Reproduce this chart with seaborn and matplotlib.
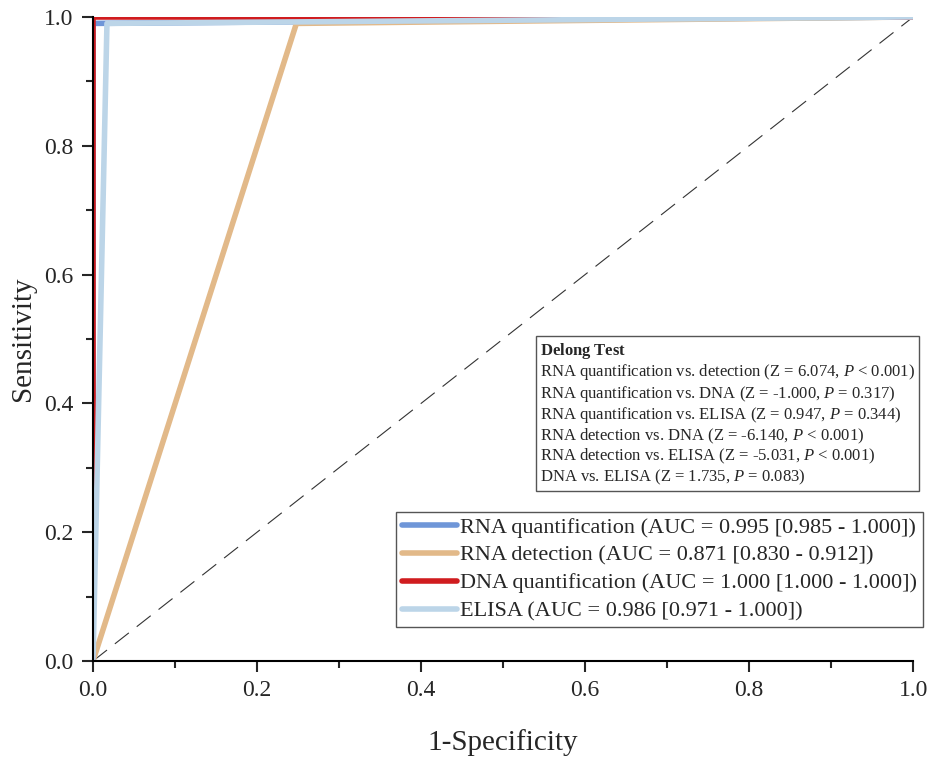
import pandas as pd
import matplotlib
matplotlib.use("Agg")
import matplotlib.pyplot as plt
import seaborn as sns
from matplotlib.ticker import MultipleLocator, FormatStrFormatter
from matplotlib.lines import Line2D

# ROC points (1-specificity, sensitivity) for each test
tests = ["RNA quantification", "RNA detection", "DNA quantification", "ELISA"]
fpr_rna_quant = [0.0, 0.0, 1.0]
tpr_rna_quant = [0.0, 0.99, 1.0]
fpr_rna_detect = [0.0, 0.248, 1.0]
tpr_rna_detect = [0.0, 0.99, 1.0]
fpr_dna_quant = [0.0, 0.0, 1.0]
tpr_dna_quant = [0.0, 1.0, 1.0]
fpr_elisa = [0.0, 0.017, 1.0]
tpr_elisa = [0.0, 0.99, 1.0]

auc_labels = [
    "RNA quantification (AUC = 0.995 [0.985 - 1.000])",
    "RNA detection (AUC = 0.871 [0.830 - 0.912])",
    "DNA quantification (AUC = 1.000 [1.000 - 1.000])",
    "ELISA (AUC = 0.986 [0.971 - 1.000])",
]
colors = ["#6f96d8", "#e2b989", "#d01c1f", "#bcd5e8"]

delong_lines = [
    r"RNA quantification vs. detection (Z = 6.074, $P$ < 0.001)",
    r"RNA quantification vs. DNA (Z = -1.000, $P$ = 0.317)",
    r"RNA quantification vs. ELISA (Z = 0.947, $P$ = 0.344)",
    r"RNA detection vs. DNA (Z = -6.140, $P$ < 0.001)",
    r"RNA detection vs. ELISA (Z = -5.031, $P$ < 0.001)",
    r"DNA vs. ELISA (Z = 1.735, $P$ = 0.083)",
]

rows = []
for name, fx, ty in zip(tests,
                        [fpr_rna_quant, fpr_rna_detect, fpr_dna_quant, fpr_elisa],
                        [tpr_rna_quant, tpr_rna_detect, tpr_dna_quant, tpr_elisa]):
    for i, (a, b) in enumerate(zip(fx, ty)):
        rows.append({"Test": name, "fpr": a, "tpr": b, "step": i})
df = pd.DataFrame(rows)

sns.set_style("ticks")
plt.rcParams["font.family"] = ["Liberation Serif", "DejaVu Serif"]
plt.rcParams["mathtext.fontset"] = "custom"
plt.rcParams["mathtext.rm"] = "Liberation Serif"
plt.rcParams["mathtext.it"] = "Liberation Serif:italic"
plt.rcParams["mathtext.bf"] = "Liberation Serif:bold"

fig = plt.figure(figsize=(9.32, 7.61), dpi=100)
ax = fig.add_axes([0.0998, 0.1314, 0.88, 0.8463])

ax.plot([0, 1], [0, 1], color="#333333", lw=0.8, linestyle=(0, (16, 9)), zorder=1)

sns.lineplot(data=df, x="fpr", y="tpr", hue="Test", hue_order=tests,
             palette=colors, sort=False, estimator=None, linewidth=4,
             ax=ax, legend=False)

ax.set_xlim(0, 1)
ax.set_ylim(0, 1)
ax.xaxis.set_major_locator(MultipleLocator(0.2))
ax.xaxis.set_minor_locator(MultipleLocator(0.1))
ax.yaxis.set_major_locator(MultipleLocator(0.2))
ax.yaxis.set_minor_locator(MultipleLocator(0.1))
ax.xaxis.set_major_formatter(FormatStrFormatter("%.1f"))
ax.yaxis.set_major_formatter(FormatStrFormatter("%.1f"))
ax.tick_params(which="major", direction="out", length=8, width=1.5, labelsize=17, pad=6)
ax.tick_params(which="minor", direction="out", length=5, width=1.5)
sns.despine(ax=ax)
for s in ["left", "bottom"]:
    ax.spines[s].set_linewidth(1.5)
    ax.spines[s].set_color("black")

ax.set_xlabel("1-Specificity", fontsize=21, labelpad=20)
ax.set_ylabel("Sensitivity", fontsize=21, labelpad=6)

handles = [Line2D([0], [0], color=c, lw=4) for c in colors]
leg = ax.legend(handles, auc_labels, loc="lower right", bbox_to_anchor=(1.012, 0.053),
                borderaxespad=0, fontsize=16, frameon=True, fancybox=False,
                framealpha=1, edgecolor="#555555", handlelength=2.5,
                handletextpad=0.15, labelspacing=0.33, borderpad=0.25)
leg.get_frame().set_linewidth(1.0)

box_text = r"$\bf{Delong\ Test}$" + "\n" + "\n".join(delong_lines)
ax.text(0.545, 0.497, box_text, transform=ax.transAxes, ha="left", va="top",
        fontsize=12, linespacing=1.1,
        bbox=dict(boxstyle="square,pad=0.25", fc="white", ec="#555555", lw=1.0))

fig.savefig("out.png", dpi=100)
